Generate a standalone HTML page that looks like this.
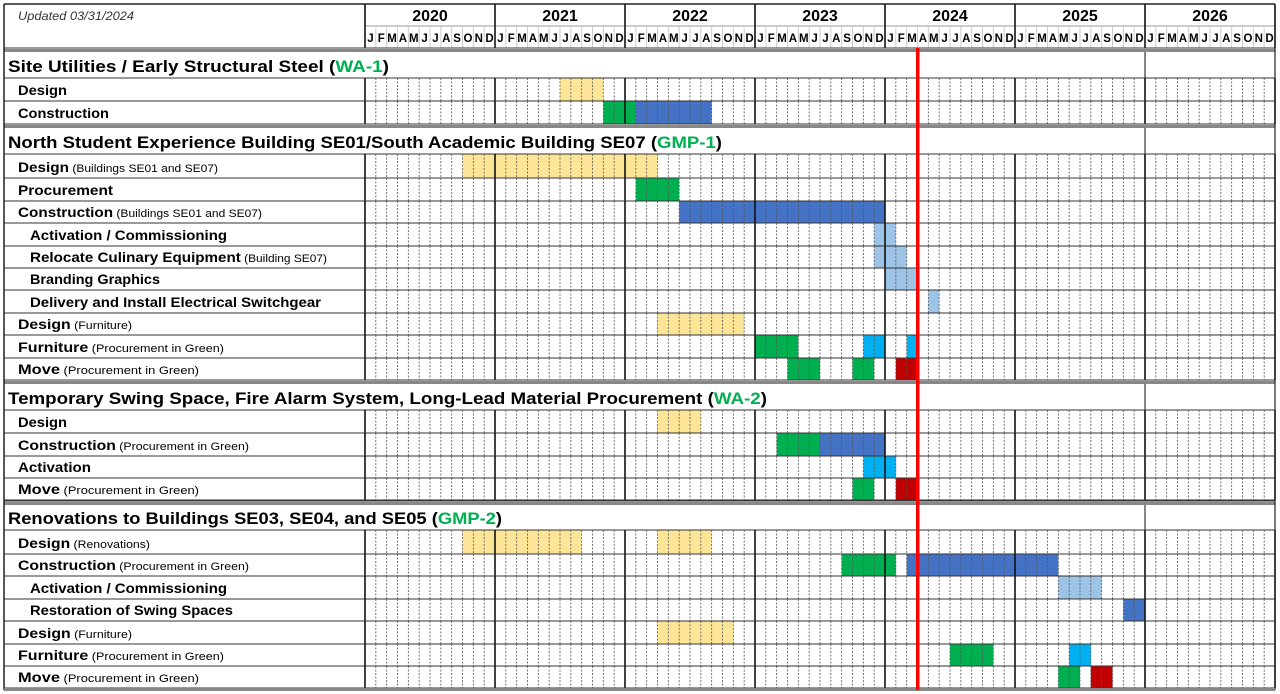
<!DOCTYPE html>
<html><head><meta charset="utf-8"><style>
html,body{margin:0;padding:0;background:#fff;width:1280px;height:694px;overflow:hidden}
svg{display:block}
text{font-family:"Liberation Sans",sans-serif}
</style></head><body>
<svg id="s" width="1280" height="694" xmlns="http://www.w3.org/2000/svg"></svg>
<script>
const S=document.getElementById('s');let h='';
const X0=365,MW=130/12;
const mx=m=>X0+m*MW;
const rows=[
['S',52,78,'Site Utilities / Early Structural Steel (',' WA-1',')',389],
['I',78,101,'Design','',67,18],
['I',101,124,'Construction','',109,18],
['S',128,154,'North Student Experience Building SE01/South Academic Building SE07 (','GMP-1',')',722],
['I',154,178,'Design','(Buildings SE01 and SE07)',218,18],
['I',178,201,'Procurement','',113,18],
['I',201,223,'Construction','(Buildings SE01 and SE07)',262,18],
['I',223,246,'Activation / Commissioning','',227,30],
['I',246,268,'Relocate Culinary Equipment','(Building SE07)',327,30],
['I',268,290,'Branding Graphics','',160,30],
['I',290,313,'Delivery and Install Electrical Switchgear','',321,30],
['I',313,335,'Design','(Furniture)',132,18],
['I',335,358,'Furniture','(Procurement in Green)',224,18],
['I',358,380,'Move','(Procurement in Green)',199,18],
['S',384,410,'Temporary Swing Space, Fire Alarm System, Long-Lead Material Procurement (','WA-2',')',767],
['I',410,433,'Design','',67,18],
['I',433,456,'Construction','(Procurement in Green)',249,18],
['I',456,478,'Activation','',91,18],
['I',478,500,'Move','(Procurement in Green)',199,18],
['S',505,530,'Renovations to Buildings SE03, SE04, and SE05 (','GMP-2',')',502],
['I',530,554,'Design','(Renovations)',150,18],
['I',554,576,'Construction','(Procurement in Green)',249,18],
['I',576,599,'Activation / Commissioning','',227,30],
['I',599,621,'Restoration of Swing Spaces','',233,30],
['I',621,644,'Design','(Furniture)',132,18],
['I',644,666,'Furniture','(Procurement in Green)',224,18],
['I',666,688,'Move','(Procurement in Green)',199,18]
];
const Y='#fde598',G='#00b050',B='#4472c4',LB='#9dc3e6',C='#00b0f0',R='#c00000',DB='#4472c4';
const bars={1:[[18,21,Y]],2:[[22,24,G],[25,31,B]],4:[[9,26,Y]],5:[[25,28,G]],6:[[29,47,B]],7:[[47,48,LB]],8:[[47,49,LB]],9:[[48,50,LB]],10:[[52,52,LB]],11:[[27,34,Y]],12:[[36,39,G],[46,47,C],[50,50,C]],13:[[39,41,G],[45,46,G],[49,50,R]],15:[[27,30,Y]],16:[[38,41,G],[42,47,B]],17:[[46,48,C]],18:[[45,46,G],[49,50,R]],20:[[9,19,Y],[27,31,Y]],21:[[44,48,G],[50,63,B]],22:[[64,67,LB]],23:[[70,71,DB]],24:[[27,33,Y]],25:[[54,57,G],[65,66,C]],26:[[64,65,G],[67,68,R]]};
rows.forEach((r,i)=>{(bars[i]||[]).forEach(b=>{h+=`<rect x="${mx(b[0])}" y="${r[1]}" width="${(b[1]-b[0]+1)*MW}" height="${r[2]-r[1]}" fill="${b[2]}"/>`;});});
rows.forEach((r,i)=>{
 if(r[0]=='I'){
  for(let m=1;m<84;m++){if(m%12)h+=`<line x1="${mx(m)}" y1="${r[1]}" x2="${mx(m)}" y2="${r[2]}" stroke="#555" stroke-width="0.8" stroke-dasharray="2,1.5"/>`;}
  for(let k=0;k<=7;k++)h+=`<line x1="${mx(k*12)}" y1="${r[1]}" x2="${mx(k*12)}" y2="${r[2]}" stroke="#111" stroke-width="1.6"/>`;
 } else {
  h+=`<line x1="1145" y1="${r[1]}" x2="1145" y2="${r[2]}" stroke="#333" stroke-width="1.2"/>`;
 }
 h+=`<line x1="4" y1="${r[2]}" x2="1275" y2="${r[2]}" stroke="#333" stroke-width="1"/>`;
 if(r[0]=='S')h+=`<rect x="4" y="${r[1]-3}" width="1271" height="3" fill="#888"/><line x1="4" y1="${r[1]-4}" x2="1275" y2="${r[1]-4}" stroke="#333"/>`;
});
h+=`<line x1="4" y1="4" x2="1275" y2="4" stroke="#222" stroke-width="1.5"/>`;
h+=`<line x1="365" y1="26" x2="1275" y2="26" stroke="#999"/>`;
h+=`<text x="18" y="20" font-size="12" font-style="italic" fill="#333" textLength="116" lengthAdjust="spacingAndGlyphs">Updated 03/31/2024</text>`;
const ML='JFMAMJJASOND';
for(let k=0;k<7;k++){
 h+=`<text x="${mx(k*12)+65}" y="21" font-size="16" font-weight="bold" text-anchor="middle">${2020+k}</text>`;
 for(let m=0;m<12;m++){const x=mx(k*12+m);
  if(m)h+=`<line x1="${x}" y1="26" x2="${x}" y2="48" stroke="#ccc"/>`;
  h+=`<text x="${x+MW/2}" y="42" font-size="11.5" font-weight="bold" text-anchor="middle">${ML[m]}</text>`;}
}
for(let k=0;k<=7;k++)h+=`<line x1="${mx(k*12)}" y1="4" x2="${mx(k*12)}" y2="48" stroke="#111" stroke-width="1.6"/>`;
h+=`<line x1="4" y1="48" x2="1275" y2="48" stroke="#333"/>`;
h+=`<line x1="4" y1="4" x2="4" y2="690" stroke="#222" stroke-width="1.5"/>`;
h+=`<line x1="1275" y1="4" x2="1275" y2="690" stroke="#222" stroke-width="1.2"/>`;
h+=`<rect x="4" y="688" width="1271" height="3" fill="#888"/>`;
rows.forEach(r=>{
 if(r[0]=='S'){
  h+=`<text x="8" y="${r[2]-6}" font-size="17" font-weight="bold" textLength="${r[6]-8}" lengthAdjust="spacingAndGlyphs">${r[3]}<tspan fill="#00b050">${r[4].trim()}</tspan>${r[5]}</text>`;
 } else {
  h+=`<text x="${r[6]}" y="${r[2]-6}" font-size="14" font-weight="bold" textLength="${r[5]-r[6]}" lengthAdjust="spacingAndGlyphs">${r[3]}${r[4]?`<tspan font-size="11" font-weight="normal"> ${r[4]}</tspan>`:''}</text>`;
 }
});
h+=`<rect x="916" y="48" width="3.5" height="642" fill="#ff0000"/>`;
S.innerHTML=h;
</script>
</body></html>
